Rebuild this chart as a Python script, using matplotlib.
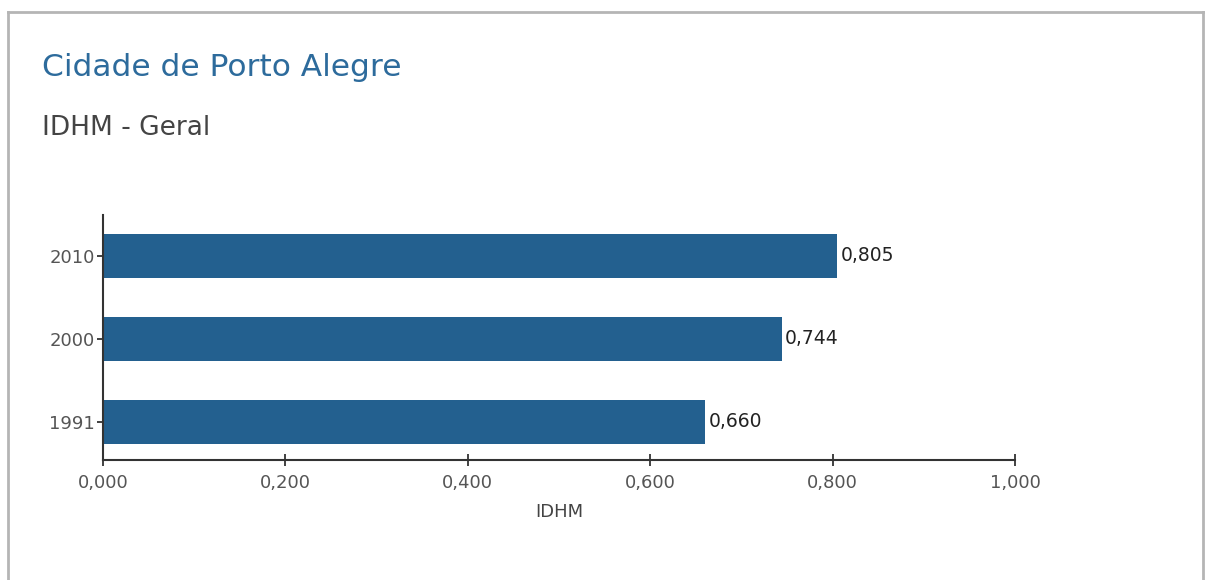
import matplotlib
matplotlib.use("Agg")
import matplotlib.pyplot as plt
from matplotlib.lines import Line2D

# data
years = ["1991", "2000", "2010"]
idhm = [0.660, 0.744, 0.805]
x_ticks = [0.0, 0.2, 0.4, 0.6, 0.8, 1.0]

title = "Cidade de Porto Alegre"
subtitle = "IDHM - Geral"
x_label = "IDHM"

bar_color = "#23608f"
fonts = ["DejaVu Sans Condensed", "Liberation Sans Narrow", "DejaVu Sans"]
plt.rcParams["font.family"] = fonts

W, H = 1207, 580
fig = plt.figure(figsize=(W / 100, H / 100), dpi=100)

# panel frame (open at the bottom)
frame = dict(color="#b5b5b5", lw=2.0, transform=fig.transFigure)
fig.add_artist(Line2D([8 / W, 1203 / W], [1 - 12 / H, 1 - 12 / H], **frame))
fig.add_artist(Line2D([8 / W, 8 / W], [0, 1 - 12 / H], **frame))
fig.add_artist(Line2D([1203 / W, 1203 / W], [0, 1 - 12 / H], **frame))

fig.text(42 / W, 1 - 68 / H, title, color="#2d6b9c", fontsize=22.5, va="center")
fig.text(42 / W, 1 - 128 / H, subtitle, color="#444444", fontsize=19, va="center")

ax = fig.add_axes([103 / W, 1 - 460 / H, (1015 - 103) / W, (460 - 215) / H])
pos = list(range(len(years)))
bars = ax.barh(pos, idhm, height=0.53, color=bar_color)
for b, v in zip(bars, idhm):
    ax.text(v + 0.004, b.get_y() + b.get_height() / 2,
            f"{v:.3f}".replace(".", ","), va="center", ha="left",
            fontsize=13.5, color="#222222")

ax.set_xlim(0, 1.0)
ax.set_ylim(-0.46, 2.49)
ax.set_yticks(pos)
ax.set_yticklabels(years)
ax.set_xticks(x_ticks)
ax.set_xticklabels([f"{t:.3f}".replace(".", ",") for t in x_ticks])
ax.set_xlabel(x_label, fontsize=13, color="#444444", labelpad=8)

for s in ("top", "right"):
    ax.spines[s].set_visible(False)
for s in ("left", "bottom"):
    ax.spines[s].set_color("#333333")
    ax.spines[s].set_linewidth(1.5)
ax.tick_params(axis="x", direction="inout", length=8, width=1.3,
               colors="#333333", labelcolor="#555555", labelsize=13, pad=6)
ax.tick_params(axis="y", direction="out", length=4, width=1.3,
               colors="#333333", labelcolor="#555555", labelsize=13, pad=2)

fig.savefig("out.png", dpi=100)
